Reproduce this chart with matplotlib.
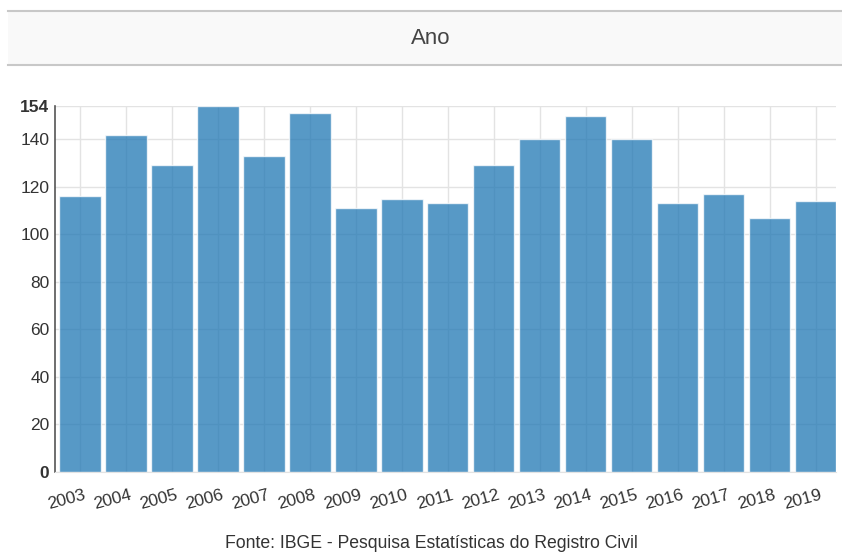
import matplotlib.pyplot as plt
from matplotlib.patches import Rectangle

anos = ["2003", "2004", "2005", "2006", "2007", "2008", "2009", "2010", "2011",
        "2012", "2013", "2014", "2015", "2016", "2017", "2018", "2019"]
valores = [116, 142, 129, 154, 133, 151, 111, 115, 113,
           129, 140, 150, 140, 113, 117, 107, 114]
yticks = [0, 20, 40, 60, 80, 100, 120, 140, 154]

fig = plt.figure(figsize=(8.42, 5.52), dpi=100)

# faixa do titulo
fig.patches.append(Rectangle((8 / 842, 1 - 65 / 552), 834 / 842, 54 / 552,
                             transform=fig.transFigure, facecolor="#f9f9f9",
                             edgecolor="none", zorder=0))
fig.add_artist(plt.Line2D([8 / 842, 1], [1 - 11 / 552] * 2, color="#c8c8c8", lw=1.5))
fig.add_artist(plt.Line2D([8 / 842, 1], [1 - 65 / 552] * 2, color="#c8c8c8", lw=1.5))
fig.text(431 / 842, 1 - 38 / 552, "Ano", ha="center", va="center",
         fontsize=16, color="#444444", family="Liberation Sans")

ax = fig.add_axes([55 / 842, 1 - 472 / 552, 781 / 842, 366 / 552])
x = list(range(len(anos)))
ax.bar(x, valores, width=0.9, color="#1f77b4", alpha=0.75,
       edgecolor="white", linewidth=1, zorder=2)

ax.set_xlim(-0.54, 16.44)
ax.set_ylim(0, 154)
ax.set_yticks(yticks)
# grade nas categorias, rotulos um pouco a esquerda (como no highcharts)
ax.set_xticks(x)
ax.set_xticklabels([])
ax.set_xticks([i - 0.28 for i in x], minor=True)
ax.set_xticklabels(anos, minor=True, rotation=15, ha="center", fontsize=12.5,
                   color="#333333", family="Liberation Sans")
ax.set_yticklabels([str(v) for v in yticks], fontsize=12.5, color="#333333",
                   family="Liberation Sans")
for lab in ax.get_yticklabels():
    if lab.get_text() in ("0", "154"):
        lab.set_fontweight("bold")

ax.grid(True, which="major", color="#e3e3e3", linewidth=1, zorder=0)
ax.set_axisbelow(True)
ax.tick_params(which="both", length=0, pad=4)
ax.tick_params(axis="x", which="minor", pad=11)
for s in ["top", "right"]:
    ax.spines[s].set_visible(False)
ax.spines["left"].set_color("#555555")
ax.spines["left"].set_linewidth(1.2)
ax.spines["bottom"].set_color("#e3e3e3")

fig.text(431 / 842, 1 - 543 / 552,
         "Fonte: IBGE - Pesquisa Estatísticas do Registro Civil",
         ha="center", va="center", fontsize=12.7, color="#333333",
         family="Liberation Sans")

fig.savefig("out.png", dpi=100)
